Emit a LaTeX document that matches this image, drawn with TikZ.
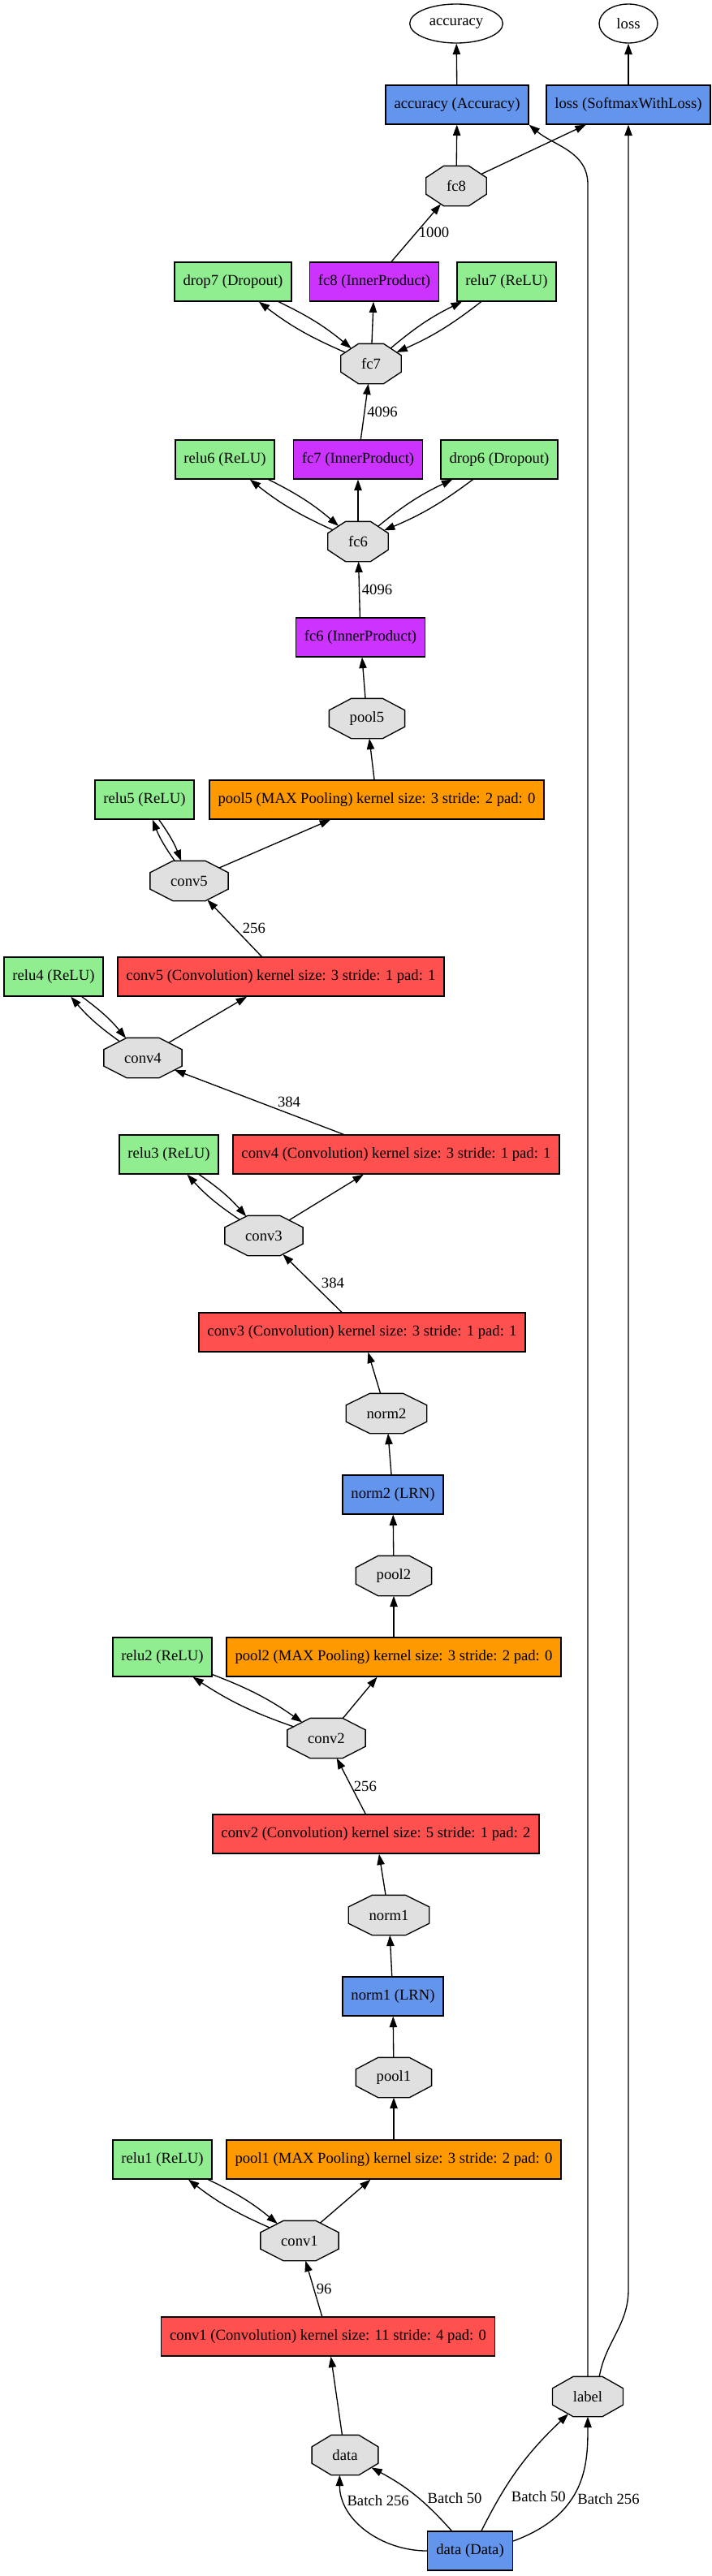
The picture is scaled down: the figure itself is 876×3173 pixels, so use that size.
\documentclass[tikz,border=0pt]{standalone}
\usepackage{fontspec}
\setmainfont{Liberation Serif}
\usetikzlibrary{shapes.geometric,arrows.meta,calc}
\definecolor{convred}{HTML}{FF5050}
\definecolor{poolorange}{HTML}{FF9900}
\definecolor{ipviolet}{HTML}{CC33FF}
\definecolor{layerblue}{HTML}{6495ED}
\definecolor{neurongreen}{HTML}{90EE90}
\definecolor{blobgray}{HTML}{E0E0E0}

% stretched octagon for the blobs
\makeatletter
\pgfdeclareshape{gvoctagon}{%
  \inheritsavedanchors[from=rectangle]%
  \inheritanchor[from=rectangle]{center}%
  \inheritanchor[from=rectangle]{north}%
  \inheritanchor[from=rectangle]{south}%
  \inheritanchor[from=rectangle]{east}%
  \inheritanchor[from=rectangle]{west}%
  \inheritanchor[from=rectangle]{north east}%
  \inheritanchor[from=rectangle]{north west}%
  \inheritanchor[from=rectangle]{south east}%
  \inheritanchor[from=rectangle]{south west}%
  \inheritanchor[from=rectangle]{text}%
  \inheritanchor[from=rectangle]{base}%
  \inheritanchor[from=rectangle]{mid}%
  \anchorborder{%
    \edef\gvo@dx{\the\pgf@x}\edef\gvo@dy{\the\pgf@y}%
    \southwest\edef\gvo@l{\the\pgf@x}\edef\gvo@b{\the\pgf@y}%
    \northeast\edef\gvo@r{\the\pgf@x}\edef\gvo@t{\the\pgf@y}%
    \pgfmathsetmacro\gvo@ha{((\gvo@r)-(\gvo@l))/2}%
    \pgfmathsetmacro\gvo@hb{((\gvo@t)-(\gvo@b))/2}%
    \pgfmathsetmacro\gvo@u{abs(\gvo@dx)/\gvo@ha}%
    \pgfmathsetmacro\gvo@v{abs(\gvo@dy)/\gvo@hb}%
    \pgfmathsetmacro\gvo@s{1/max(\gvo@u,\gvo@v,(\gvo@u+\gvo@v)/1.41421)}%
    \pgfmathsetmacro\gvo@px{((\gvo@l)+(\gvo@r))/2+\gvo@s*(\gvo@dx)}%
    \pgfmathsetmacro\gvo@py{((\gvo@b)+(\gvo@t))/2+\gvo@s*(\gvo@dy)}%
    \pgf@x=\gvo@px pt\relax
    \pgf@y=\gvo@py pt\relax
  }%
  \backgroundpath{%
    \southwest\edef\gvo@l{\the\pgf@x}\edef\gvo@b{\the\pgf@y}%
    \northeast\edef\gvo@r{\the\pgf@x}\edef\gvo@t{\the\pgf@y}%
    \pgfmathsetmacro\gvo@cx{0.29289*((\gvo@r)-(\gvo@l))}%
    \pgfmathsetmacro\gvo@cy{0.29289*((\gvo@t)-(\gvo@b))}%
    \pgfpathmoveto{\pgfpoint{(\gvo@l)+\gvo@cx}{\gvo@b}}%
    \pgfpathlineto{\pgfpoint{(\gvo@r)-\gvo@cx}{\gvo@b}}%
    \pgfpathlineto{\pgfpoint{\gvo@r}{(\gvo@b)+\gvo@cy}}%
    \pgfpathlineto{\pgfpoint{\gvo@r}{(\gvo@t)-\gvo@cy}}%
    \pgfpathlineto{\pgfpoint{(\gvo@r)-\gvo@cx}{\gvo@t}}%
    \pgfpathlineto{\pgfpoint{(\gvo@l)+\gvo@cx}{\gvo@t}}%
    \pgfpathlineto{\pgfpoint{\gvo@l}{(\gvo@t)-\gvo@cy}}%
    \pgfpathlineto{\pgfpoint{\gvo@l}{(\gvo@b)+\gvo@cy}}%
    \pgfpathclose
  }%
}
\makeatother

\begin{document}
\begin{tikzpicture}[x=0.75pt, y=0.75pt, line width=1pt, >={Triangle[length=10pt,width=7pt]},
  every node/.style={font=\fontsize{14pt}{16pt}\selectfont},
  layer/.style={draw, rectangle, minimum height=36pt, minimum width=54pt, inner xsep=7.9pt, inner ysep=0pt},
  convl/.style={layer, fill=convred}, pooll/.style={layer, fill=poolorange},
  ipl/.style={layer, fill=ipviolet}, bluel/.style={layer, fill=layerblue},
  relul/.style={layer, fill=neurongreen},
  blob/.style={draw, fill=blobgray, shape=gvoctagon, inner xsep=18.5pt, inner ysep=0pt, minimum height=36pt},
  topb/.style={draw, ellipse, minimum height=36pt, inner sep=0pt},
  lbl/.style={right, inner sep=2pt}]
  \useasboundingbox (0,0) rectangle (876,-3173);

  % Blobs
  \node[topb, minimum width=86pt] (accT) at (562,-29) {accuracy};
  \node[topb, minimum width=54pt] (lossT) at (774,-29) {loss};
  \node[blob] (fc8) at (562,-229) {fc8};
  \node[blob] (fc7) at (457,-448) {fc7};
  \node[blob] (fc6) at (441,-667) {fc6};
  \node[blob] (pool5) at (452,-885) {pool5};
  \node[blob] (conv5) at (233,-1085) {conv5};
  \node[blob] (conv4) at (176,-1303) {conv4};
  \node[blob] (conv3) at (325,-1522) {conv3};
  \node[blob] (norm2) at (476,-1741) {norm2};
  \node[blob] (pool2) at (485,-1941) {pool2};
  \node[blob] (conv2) at (402,-2141) {conv2};
  \node[blob] (norm1) at (479,-2359) {norm1};
  \node[blob] (pool1) at (485,-2559) {pool1};
  \node[blob] (conv1) at (369,-2760) {conv1};
  \node[blob] (label) at (724,-2952) {label};
  \node[blob] (data) at (425,-3024) {data};

  % Layers
  \node[bluel] (accL) at (563,-129) {accuracy (Accuracy)};
  \node[bluel] (lossL) at (774,-129) {loss (SoftmaxWithLoss)};
  \node[relul] (drop7L) at (287,-347) {drop7 (Dropout)};
  \node[ipl] (fc8L) at (461,-347) {fc8 (InnerProduct)};
  \node[relul] (relu7L) at (624,-347) {relu7 (ReLU)};
  \node[relul] (relu6L) at (277,-566) {relu6 (ReLU)};
  \node[ipl] (fc7L) at (441,-566) {fc7 (InnerProduct)};
  \node[relul] (drop6L) at (615,-566) {drop6 (Dropout)};
  \node[ipl] (fc6L) at (444,-785) {fc6 (InnerProduct)};
  \node[relul] (relu5L) at (178,-985) {relu5 (ReLU)};
  \node[pooll] (pool5L) at (464,-985) {pool5 (MAX Pooling) kernel size: 3 stride: 2 pad: 0};
  \node[relul] (relu4L) at (66,-1203) {relu4 (ReLU)};
  \node[convl] (conv5L) at (346,-1203) {conv5 (Convolution) kernel size: 3 stride: 1 pad: 1};
  \node[relul] (relu3L) at (208,-1422) {relu3 (ReLU)};
  \node[convl] (conv4L) at (488,-1422) {conv4 (Convolution) kernel size: 3 stride: 1 pad: 1};
  \node[convl] (conv3L) at (446,-1641) {conv3 (Convolution) kernel size: 3 stride: 1 pad: 1};
  \node[bluel] (norm2L) at (484,-1841) {norm2 (LRN)};
  \node[relul] (relu2L) at (200,-2041) {relu2 (ReLU)};
  \node[pooll] (pool2L) at (485,-2041) {pool2 (MAX Pooling) kernel size: 3 stride: 2 pad: 0};
  \node[convl] (conv2L) at (463,-2259) {conv2 (Convolution) kernel size: 5 stride: 1 pad: 2};
  \node[bluel] (norm1L) at (484,-2459) {norm1 (LRN)};
  \node[relul] (relu1L) at (200,-2660) {relu1 (ReLU)};
  \node[pooll] (pool1L) at (485,-2660) {pool1 (MAX Pooling) kernel size: 3 stride: 2 pad: 0};
  \node[convl] (conv1L) at (404,-2878) {conv1 (Convolution) kernel size: 11 stride: 4 pad: 0};
  \node[bluel] (dataL) at (579,-3142) {data (Data)};

  \coordinate (accbend) at (723,-227);
  \coordinate (lossbend) at (775,-2820);

  % Main chain
  \path[->]
    (data) edge (conv1L)
    (conv1L) edge node[lbl] {96} (conv1)
    (conv1) edge[bend left=7] (relu1L)
    (relu1L) edge[bend left=7] (conv1)
    (conv1) edge (pool1L)
    (pool1L) edge (pool1)
    (pool1) edge (norm1L)
    (norm1L) edge (norm1)
    (norm1) edge (conv2L)
    (conv2L) edge node[lbl] {256} (conv2)
    (conv2) edge[bend left=7] (relu2L)
    (relu2L) edge[bend left=7] (conv2)
    (conv2) edge (pool2L)
    (pool2L) edge (pool2)
    (pool2) edge (norm2L)
    (norm2L) edge (norm2)
    (norm2) edge (conv3L)
    (conv3L) edge node[lbl, xshift=6pt] {384} (conv3)
    (conv3) edge[bend left=7] (relu3L)
    (relu3L) edge[bend left=7] (conv3)
    (conv3) edge (conv4L)
    (conv4L) edge node[above right, pos=.4, inner sep=1pt] {384} (conv4)
    (conv4) edge[bend left=7] (relu4L)
    (relu4L) edge[bend left=7] (conv4)
    (conv4) edge (conv5L)
    (conv5L) edge node[lbl, xshift=5pt] {256} (conv5)
    (conv5) edge[bend left=7] (relu5L)
    (relu5L) edge[bend left=7] (conv5)
    (conv5) edge (pool5L)
    (pool5L) edge (pool5)
    (pool5) edge (fc6L)
    (fc6L) edge node[lbl] {4096} (fc6)
    (fc6) edge[bend left=7] (relu6L)
    (relu6L) edge[bend left=7] (fc6)
    (fc6) edge[bend left=7] (drop6L)
    (drop6L) edge[bend left=7] (fc6)
    (fc6) edge (fc7L)
    (fc7L) edge node[lbl] {4096} (fc7)
    (fc7) edge[bend left=7] (drop7L)
    (drop7L) edge[bend left=7] (fc7)
    (fc7) edge[bend left=7] (relu7L)
    (relu7L) edge[bend left=7] (fc7)
    (fc7) edge (fc8L)
    (fc8L) edge node[lbl] {1000} (fc8)
    (fc8) edge (accL)
    (fc8) edge (lossL)
    (accL) edge (accT)
    (lossL) edge (lossT);

  % Data layer outputs
  \draw[->] (dataL.west) to[out=180,in=-90] node[pos=.8, lbl] {Batch 256} ([xshift=-5pt]data.south);
  \draw[->] ([xshift=-17pt]dataL.north) to[bend right=10] node[pos=.45, lbl, xshift=6pt] {Batch 50} (data);
  \draw[->] ([xshift=10.5pt]dataL.north) to[bend left=10] node[pos=.25, lbl, xshift=8pt] {Batch 50} (label);
  \draw[->] ([yshift=9pt]dataL.east) to[out=20,in=-90,out looseness=1.4,in looseness=.8] node[pos=.4, lbl, xshift=3pt] {Batch 256} (label.south);

  % Label to the loss layers
  \draw[->] (label.north) -- (label.north |- accbend) to[out=90,in=-40] (accL.south east);
  \draw[->] (label.60) to[out=80,in=-90] (lossL.south |- lossbend) -- (lossL.south);
\end{tikzpicture}
\end{document}
